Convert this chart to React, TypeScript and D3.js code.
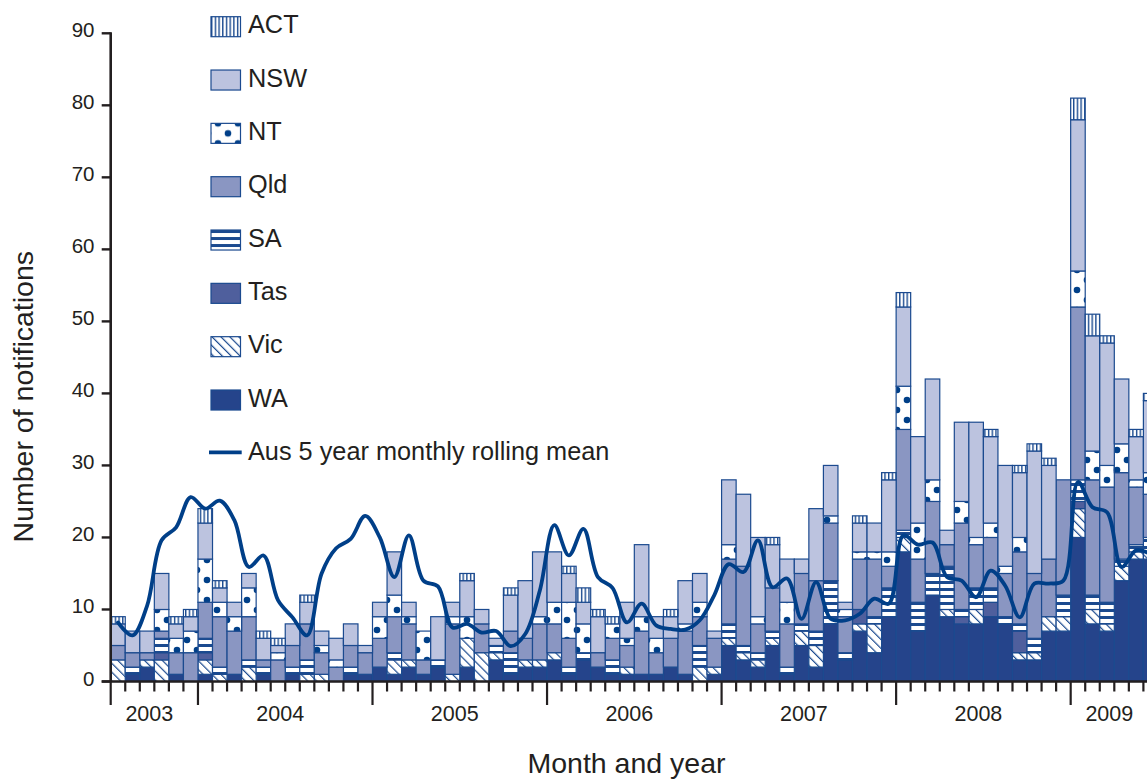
import * as d3 from 'd3';

// month axis: Jul 2003 .. Jun 2009
const years = ['2003', '2004', '2005', '2006', '2007', '2008', '2009'];
const monthsPerYear = [6, 12, 12, 12, 12, 12, 6];

// notifications per month, by state (stacked bottom to top)
const WA = [0, 1, 2, 0, 1, 0, 1, 0, 1, 0, 1, 0, 1, 0, 0, 0, 1, 1, 2, 1, 2, 1, 2, 0, 2, 0, 3, 1, 2, 2, 3, 1, 3, 2, 1, 1, 1, 1, 2, 1, 0, 1, 5, 3, 2, 5, 1, 5, 2, 8, 3, 7, 4, 9, 18, 7, 12, 9, 8, 8, 9, 8, 3, 3, 7, 7, 20, 8, 7, 14, 17, 17];
const Vic = [3, 0, 1, 3, 0, 0, 2, 1, 0, 2, 0, 0, 0, 1, 1, 0, 0, 0, 0, 2, 1, 0, 0, 1, 4, 4, 1, 0, 1, 1, 1, 0, 0, 0, 0, 1, 0, 0, 0, 0, 2, 1, 1, 1, 1, 1, 0, 2, 3, 0, 0, 1, 4, 0, 2, 0, 0, 1, 0, 2, 0, 0, 1, 1, 2, 2, 4, 2, 1, 2, 1, 1];
const Tas = [0, 0, 0, 1, 0, 0, 1, 0, 0, 0, 0, 0, 0, 0, 0, 0, 0, 0, 0, 0, 0, 0, 0, 0, 0, 0, 0, 0, 0, 0, 0, 0, 0, 0, 0, 0, 0, 0, 0, 0, 0, 0, 0, 0, 0, 0, 0, 0, 0, 0, 0, 2, 0, 0, 0, 0, 0, 0, 1, 0, 2, 0, 3, 0, 0, 0, 1, 0, 0, 0, 0, 0];
const SA = [0, 1, 0, 2, 0, 0, 2, 1, 0, 1, 1, 0, 1, 2, 0, 0, 1, 0, 0, 1, 0, 0, 1, 0, 0, 0, 1, 3, 0, 0, 0, 1, 1, 0, 2, 0, 0, 0, 0, 0, 3, 0, 2, 1, 1, 1, 1, 1, 2, 6, 1, 0, 1, 4, 1, 4, 3, 6, 1, 3, 2, 1, 1, 2, 0, 3, 3, 2, 3, 1, 1, 2];
const Qld = [2, 2, 1, 1, 3, 4, 5, 7, 6, 6, 1, 3, 3, 5, 3, 2, 3, 3, 4, 5, 5, 2, 0, 7, 0, 4, 0, 3, 3, 5, 4, 4, 0, 2, 3, 3, 6, 3, 4, 6, 4, 4, 9, 11, 4, 6, 6, 7, 7, 8, 5, 7, 8, 3, 14, 6, 10, 3, 12, 6, 7, 6, 10, 9, 8, 16, 24, 16, 16, 12, 8, 6];
const NT = [0, 0, 0, 3, 2, 3, 6, 2, 2, 4, 0, 1, 0, 0, 1, 1, 0, 0, 3, 3, 1, 4, 0, 1, 3, 0, 0, 0, 0, 1, 3, 5, 4, 0, 2, 1, 2, 2, 0, 1, 2, 0, 2, 0, 1, 0, 3, 0, 0, 1, 1, 1, 1, 2, 6, 5, 3, 0, 3, 1, 2, 1, 2, 0, 0, 0, 5, 4, 3, 4, 1, 3];
const NSW = [3, 3, 3, 5, 2, 2, 5, 2, 2, 2, 3, 1, 3, 3, 2, 3, 3, 1, 2, 6, 2, 0, 6, 2, 5, 2, 1, 5, 8, 9, 7, 4, 3, 5, 0, 5, 10, 3, 3, 6, 4, 1, 9, 10, 11, 6, 6, 2, 10, 7, 1, 4, 4, 10, 11, 12, 14, 2, 11, 16, 12, 14, 9, 17, 13, 0, 21, 16, 17, 9, 6, 10];
const ACT = [1, 0, 0, 0, 1, 1, 2, 1, 0, 0, 1, 1, 0, 1, 0, 0, 0, 0, 0, 0, 0, 0, 0, 0, 1, 0, 0, 1, 0, 0, 0, 1, 2, 1, 1, 0, 0, 0, 1, 0, 0, 0, 0, 0, 0, 1, 0, 0, 0, 0, 0, 1, 0, 1, 2, 0, 0, 0, 0, 0, 1, 0, 1, 1, 1, 0, 3, 3, 1, 0, 1, 1];

// Aus 5 year monthly rolling mean
const rollingMean = [8.2, 6.4, 10.5, 19.6, 21.4, 25.6, 24, 25.1, 22.4, 15.9, 17.5, 11.3, 8.9, 6.4, 15, 18.5, 19.8, 23, 20, 14.5, 20.3, 14, 13.2, 7.5, 8, 6.8, 7, 4.9, 6.6, 12.6, 21.7, 17.5, 21.2, 14.5, 13, 8.2, 10.8, 7.8, 7.3, 7.2, 8.5, 12, 16.3, 15.2, 19.6, 13.1, 14.3, 8.7, 13.8, 8.7, 8.5, 9.4, 11.5, 10.8, 20.3, 19, 19.3, 14.5, 14, 11.7, 15.4, 13.3, 8.9, 13.6, 13.6, 14, 27.7, 24.2, 23.5, 15.9, 18.2, 17.7];

const yTicks = [0, 10, 20, 30, 40, 50, 60, 70, 80, 90];

const stackKeys = ['WA', 'Vic', 'Tas', 'SA', 'Qld', 'NT', 'NSW', 'ACT'];
const legendKeys = ['ACT', 'NSW', 'NT', 'Qld', 'SA', 'Tas', 'Vic', 'WA'];
const series: Record<string, number[]> = { WA, Vic, Tas, SA, Qld, NT, NSW, ACT };

const INK = '#1b4a8f';
const LINE = '#003f88';
const TEXT = '#231f20';
const FONT = '"Liberation Sans", Arial, Helvetica, sans-serif';

const fills: Record<string, string> = {
  ACT: 'url(#pACT)',
  NSW: '#bcc3df',
  NT: 'url(#pNT)',
  Qld: '#8a96c2',
  SA: 'url(#pSA)',
  Tas: '#4f5f9d',
  Vic: 'url(#pVic)',
  WA: '#25448b',
};

const W = 1147;
const H = 780;

export default function App() {
  const months = years.flatMap((yr, k) =>
    d3.range(monthsPerYear[k]).map((j) => `${yr}-${j}`)
  );
  const step = 14.545;
  const left = 110.7;

  const x = d3
    .scaleBand<string>()
    .domain(months)
    .range([left, left + months.length * step])
    .padding(0);
  const y = d3.scaleLinear().domain([0, 90]).range([681.5, 33.3]);
  const bw = x.bandwidth();

  const rows = months.map((m, i) => {
    const r: Record<string, number> = {};
    stackKeys.forEach((k) => (r[k] = series[k][i]));
    return r;
  });
  const stacked = d3.stack<Record<string, number>>().keys(stackKeys)(rows);

  const line = d3
    .line<number>()
    .x((_, i) => (x(months[i]) as number) + bw / 2)
    .y((d) => y(d))
    .curve(d3.curveCatmullRom.alpha(0.5));

  // first month index of each year
  const yearStart = monthsPerYear.map((_, k) => d3.sum(monthsPerYear.slice(0, k)));
  const axisRight = left + months.length * step;

  return (
    <svg
      width={W}
      height={H}
      style={{ position: 'absolute', left: 0, top: 0, background: '#fff' }}
      fontFamily={FONT}
    >
      <defs>
        <pattern id="pACT" patternUnits="userSpaceOnUse" width={3.7} height={10}>
          <rect width={3.7} height={10} fill="#fff" />
          <rect x={0} width={1.4} height={10} fill={INK} />
        </pattern>
        <pattern id="pNT" patternUnits="userSpaceOnUse" x={7} y={0} width={20} height={20}>
          <rect width={20} height={20} fill="#fff" />
          {[
            [0, 0],
            [20, 0],
            [0, 20],
            [20, 20],
            [10, 10],
          ].map(([cx, cy], i) => (
            <circle key={i} cx={cx} cy={cy} r={3.3} fill={LINE} />
          ))}
        </pattern>
        <pattern id="pSA" patternUnits="userSpaceOnUse" width={10} height={7}>
          <rect width={10} height={7} fill="#fff" />
          <rect y={0} width={10} height={3} fill={INK} />
        </pattern>
        <pattern
          id="pVic"
          patternUnits="userSpaceOnUse"
          width={6.3}
          height={10}
          patternTransform="rotate(-45)"
        >
          <rect width={6.3} height={10} fill="#fff" />
          <rect x={0} width={1.2} height={10} fill={INK} />
        </pattern>
      </defs>

      {/* stacked bars */}
      {stacked.map((s) => (
        <g key={s.key}>
          {s.map((d, i) =>
            d[1] - d[0] > 0 ? (
              <rect
                key={i}
                x={x(months[i])}
                width={bw}
                y={y(d[1])}
                height={y(d[0]) - y(d[1])}
                fill={fills[s.key]}
                stroke={INK}
                strokeWidth={1.2}
              />
            ) : null
          )}
        </g>
      ))}

      {/* rolling mean */}
      <path
        d={line(rollingMean) || ''}
        fill="none"
        stroke={LINE}
        strokeWidth={3.8}
        strokeLinejoin="round"
        strokeLinecap="round"
      />

      {/* y axis */}
      <line x1={110.7} x2={110.7} y1={y(90) - 1} y2={y(0)} stroke={TEXT} strokeWidth={2.6} />
      {yTicks.map((t) => (
        <g key={t}>
          <line x1={101.7} x2={110.7} y1={y(t)} y2={y(t)} stroke={TEXT} strokeWidth={2.4} />
          <text x={94.5} y={y(t) + 4} textAnchor="end" fontSize={20.5} fill={TEXT}>
            {t}
          </text>
        </g>
      ))}
      <text
        transform={`translate(33.3,396.7) rotate(-90)`}
        textAnchor="middle"
        fontSize={28.5}
        fill={TEXT}
      >
        Number of notifications
      </text>

      {/* x axis */}
      <line x1={101.7} x2={axisRight} y1={y(0)} y2={y(0)} stroke={TEXT} strokeWidth={2.6} />
      {months.map((m, i) => (
        <line
          key={m}
          x1={x(m)}
          x2={x(m)}
          y1={y(0)}
          y2={yearStart.includes(i) ? 705 : 691.5}
          stroke={TEXT}
          strokeWidth={2.2}
        />
      ))}
      {years.map((yr, k) => {
        const x0 = x(months[yearStart[k]]) as number;
        const x1 = x0 + monthsPerYear[k] * step;
        return (
          <text
            key={yr}
            x={(x0 + x1) / 2 - 5}
            y={721}
            textAnchor="middle"
            fontSize={21.5}
            fill={TEXT}
          >
            {yr}
          </text>
        );
      })}
      <text x={626.5} y={772.5} textAnchor="middle" fontSize={28.5} fill={TEXT}>
        Month and year
      </text>

      {/* legend */}
      {legendKeys.map((k, i) => (
        <g key={k} transform={`translate(211,${16.7 + i * 53.33})`}>
          <rect width={29.5} height={20} fill={fills[k]} stroke={INK} strokeWidth={1.2} />
          <text x={37} y={16.6} fontSize={25.3} fill={TEXT}>
            {k}
          </text>
        </g>
      ))}
      <g transform={`translate(209,${16.7 + 8 * 53.33 + 9})`}>
        <line x1={0} x2={32.7} y1={0} y2={0} stroke={LINE} strokeWidth={3.8} />
        <text x={39} y={7.6} fontSize={25.3} fill={TEXT}>
          Aus 5 year monthly rolling mean
        </text>
      </g>
    </svg>
  );
}
